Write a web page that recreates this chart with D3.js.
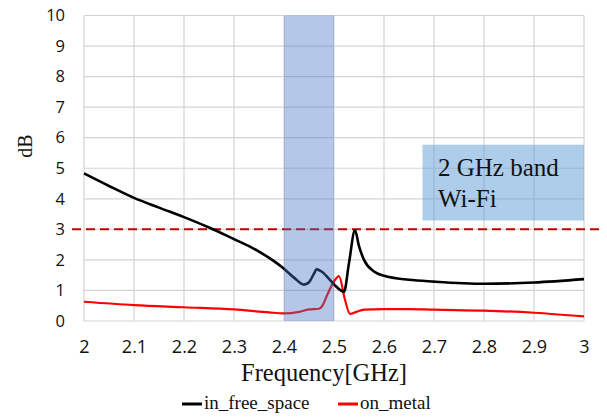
<!DOCTYPE html>
<html><head><meta charset="utf-8">
<script src="https://cdn.jsdelivr.net/npm/d3@7"></script>
<style>body{margin:0;background:#fff}svg{display:block}</style>
</head><body>
<svg id="c" width="607" height="419"></svg>
<script>
const xTicks = [2, 2.1, 2.2, 2.3, 2.4, 2.5, 2.6, 2.7, 2.8, 2.9, 3];
const yTicks = [0, 1, 2, 3, 4, 5, 6, 7, 8, 9, 10];
const freeFreq = [2.00,2.05,2.10,2.15,2.20,2.25,2.30,2.33,2.35,2.38,2.40,2.42,2.44,2.45,2.46,2.465,2.475,2.49,2.50,2.52,2.53,2.542,2.55,2.56,2.58,2.60,2.65,2.70,2.80,2.90,3.00];
const freeVal  = [4.83,4.42,4.03,3.71,3.40,3.06,2.68,2.45,2.27,1.96,1.71,1.42,1.19,1.27,1.55,1.69,1.62,1.38,1.20,0.96,1.90,2.97,2.45,2.00,1.62,1.48,1.35,1.29,1.22,1.26,1.37];
const metalFreq = [2.00,2.10,2.20,2.30,2.37,2.40,2.43,2.45,2.47,2.477,2.485,2.50,2.51,2.522,2.532,2.545,2.56,2.60,2.65,2.70,2.80,2.90,3.00];
const metalVal  = [0.63,0.52,0.45,0.38,0.28,0.25,0.30,0.38,0.40,0.50,0.80,1.30,1.47,0.69,0.23,0.30,0.37,0.39,0.39,0.37,0.34,0.27,0.15];
const bandRange = [2.4, 2.5];
const threshold = 3;
const boxLines = ["2 GHz band", "Wi-Fi"];
const seriesNames = ["in_free_space", "on_metal"];

const svg = d3.select("#c");
const x = d3.scaleLinear().domain([2, 3]).range([84, 584]);
const y = d3.scaleLinear().domain([0, 10]).range([321, 15.5]);
const grid = "#d4d4d4";

// grid
svg.append("g").selectAll("line").data(yTicks).join("line")
  .attr("x1", x(2)).attr("x2", x(3)).attr("y1", d => y(d)).attr("y2", d => y(d))
  .attr("stroke", grid).attr("stroke-width", 1.2);
svg.append("g").selectAll("line").data(xTicks).join("line")
  .attr("x1", d => x(d)).attr("x2", d => x(d)).attr("y1", y(0)).attr("y2", y(10))
  .attr("stroke", grid).attr("stroke-width", 1.2);

// axes labels via d3 axes
const yAxis = svg.append("g").attr("transform", `translate(${x(2)},0)`)
  .call(d3.axisLeft(y).tickValues(yTicks).tickSize(0).tickPadding(19).tickFormat(d3.format("d")));
yAxis.select(".domain").remove();
yAxis.selectAll("text").attr("font-family", "'Open Sans', sans-serif").attr("font-size", 16.5).attr("fill", "#111");

const xAxis = svg.append("g").attr("transform", `translate(0,${y(0)})`)
  .call(d3.axisBottom(x).tickValues(xTicks).tickSize(0).tickPadding(19).tickFormat(d => String(d)));
xAxis.select(".domain").remove();
xAxis.selectAll("text").attr("font-family", "'Open Sans', sans-serif").attr("font-size", 18).attr("fill", "#111");

// Wi-Fi box (semi-transparent)
svg.append("rect").attr("x", x(2.677)).attr("y", y(5.77)).attr("width", x(3) - x(2.677)).attr("height", y(3.29) - y(5.77))
  .attr("fill", "#5B9BD5").attr("fill-opacity", 0.5);
svg.append("g").selectAll("text").data(boxLines).join("text")
  .attr("x", x(2.708)).attr("y", (d, i) => 176 + i * 31)
  .attr("font-family", "'Liberation Serif', serif").attr("font-size", 25).attr("fill", "#111")
  .text(d => d);

// threshold dashed line
svg.append("line").attr("x1", 72).attr("x2", 600).attr("y1", y(threshold)).attr("y2", y(threshold))
  .attr("stroke", "#c00000").attr("stroke-width", 2).attr("stroke-dasharray", "9,5");

// series
const line = d3.line().x(d => x(d[0])).y(d => y(d[1])).curve(d3.curveMonotoneX);
const free = freeFreq.map((f, i) => [f, freeVal[i]]);
const metal = metalFreq.map((f, i) => [f, metalVal[i]]);
svg.append("path").datum(metal).attr("d", line).attr("fill", "none").attr("stroke", "#ff0000").attr("stroke-width", 2.2);
svg.append("path").datum(free).attr("d", line).attr("fill", "none").attr("stroke", "#000").attr("stroke-width", 2.6);

// band overlay
svg.append("rect").attr("x", x(bandRange[0])).attr("y", y(10)).attr("width", x(bandRange[1]) - x(bandRange[0])).attr("height", y(0) - y(10))
  .attr("fill", "#4472C4").attr("fill-opacity", 0.4);

// axis titles
svg.append("text").attr("x", 324).attr("y", 381).attr("text-anchor", "middle")
  .attr("font-family", "'Liberation Serif', serif").attr("font-size", 24.5).attr("fill", "#111").text("Frequency[GHz]");
svg.append("text").attr("transform", "translate(32,146) rotate(-90)").attr("text-anchor", "middle")
  .attr("font-family", "'Liberation Serif', serif").attr("font-size", 20).attr("fill", "#111").text("dB");

// legend
const leg = [{name: seriesNames[0], color: "#000", x0: 182}, {name: seriesNames[1], color: "#ff0000", x0: 338}];
const lg = svg.append("g").selectAll("g").data(leg).join("g");
lg.append("line").attr("x1", d => d.x0).attr("x2", d => d.x0 + 20).attr("y1", 404).attr("y2", 404)
  .attr("stroke", d => d.color).attr("stroke-width", 3);
lg.append("text").attr("x", d => d.x0 + 22).attr("y", 409)
  .attr("font-family", "'Liberation Serif', serif").attr("font-size", 19).attr("fill", "#111").text(d => d.name);
</script>
</body></html>
